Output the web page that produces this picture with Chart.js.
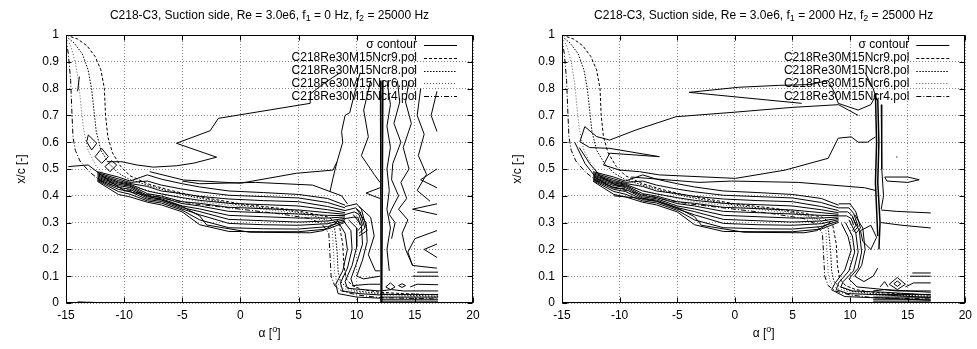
<!DOCTYPE html>
<html>
<head>
<meta charset="utf-8">
<script src="https://cdn.jsdelivr.net/npm/chart.js@4.4.1/dist/chart.umd.min.js"></script>
<style>
  body { margin: 0; background: #fff; }
  .panel { position: absolute; top: 0; }
</style>
</head>
<body>
<div class="panel" style="left:0"><canvas id="leftChart" width="488" height="349"></canvas></div>
<div class="panel" style="left:488px"><canvas id="rightChart" width="489" height="349"></canvas></div>
<script>
// ---- axis / text data ----
const xTicks = [-15, -10, -5, 0, 5, 10, 15, 20];
const yTicks = [0, 0.1, 0.2, 0.3, 0.4, 0.5, 0.6, 0.7, 0.8, 0.9, 1];
const keyLabels = ["σ contour", "C218Re30M15Ncr9.pol", "C218Re30M15Ncr8.pol", "C218Re30M15Ncr6.pol", "C218Re30M15Ncr4.pol"];
const titleLeft = ["C218-C3, Suction side, Re = 3.0e6, f", "1", " = 0 Hz, f", "2", " = 25000 Hz"];
const titleRight = ["C218-C3, Suction side, Re = 3.0e6, f", "1", " = 2000 Hz, f", "2", " = 25000 Hz"];

// ---- XFOIL transition curves (alpha, x/c) ----
const ncr9 = [[-15,1.0],[-14,0.985],[-13.2,0.96],[-12.5,0.92],[-12,0.87],[-11.7,0.8],[-11.6,0.7],[-11.4,0.62],[-11,0.56],[-10.3,0.51],[-9.5,0.475],[-8,0.445],[-6,0.42],[-4,0.4],[-2,0.385],[0,0.37],[2,0.36],[4,0.35],[6,0.335],[7.6,0.32],[8.5,0.29],[8.8,0.22],[8.9,0.14],[9.1,0.09],[9.6,0.065],[10.5,0.05],[12,0.04],[14,0.035],[17,0.03]];
const ncr8 = [[-15,0.995],[-14.3,0.97],[-13.6,0.93],[-13.1,0.87],[-12.8,0.8],[-12.6,0.72],[-12.4,0.64],[-12,0.57],[-11.3,0.52],[-10.5,0.485],[-9.5,0.46],[-8,0.44],[-6,0.415],[-4,0.395],[-2,0.38],[0,0.365],[2,0.355],[4,0.345],[6,0.33],[7.4,0.31],[8.1,0.28],[8.3,0.2],[8.4,0.12],[8.6,0.08],[9.1,0.06],[10,0.045],[12,0.035],[14,0.03],[17,0.025]];
const ncr6 = [[-15,0.99],[-14.6,0.96],[-14.2,0.9],[-13.9,0.82],[-13.7,0.73],[-13.5,0.65],[-13.1,0.57],[-12.4,0.51],[-11.5,0.47],[-10.5,0.45],[-9,0.43],[-7,0.41],[-5,0.39],[-3,0.375],[0,0.36],[3,0.345],[6,0.325],[7.2,0.305],[7.9,0.27],[8.0,0.19],[8.1,0.11],[8.3,0.075],[8.8,0.055],[10,0.04],[12,0.03],[17,0.02]];
const ncr4 = [[-15,0.985],[-14.8,0.93],[-14.6,0.83],[-14.5,0.72],[-14.4,0.62],[-14.2,0.57],[-13.8,0.53],[-13,0.49],[-12,0.455],[-10,0.425],[-8,0.405],[-6,0.385],[-4,0.37],[-2,0.36],[0,0.35],[3,0.335],[6,0.315],[7,0.295],[7.6,0.26],[7.7,0.18],[7.8,0.1],[8.1,0.065],[8.7,0.045],[10,0.03],[12,0.02],[17,0.015]];

// ---- sigma contours: dense band shared by both panels ----
const bandAlpha = [-12.3, -10.5, -9.5, -8, -6.8, -5, -3.5, -1, 2, 5, 7.5, 9];
const bandLines = [
  [0.490, 0.470, 0.455, 0.478, 0.462, 0.445, 0.433, 0.418, 0.412, 0.405, 0.390, 0.365],
  [0.486, 0.463, 0.450, 0.455, 0.440, 0.425, 0.415, 0.402, 0.397, 0.392, 0.375, 0.355],
  [0.482, 0.457, 0.446, 0.435, 0.418, 0.408, 0.398, 0.388, 0.382, 0.378, 0.360, 0.345],
  [0.478, 0.452, 0.443, 0.418, 0.407, 0.393, 0.383, 0.372, 0.367, 0.362, 0.348, 0.337],
  [0.474, 0.448, 0.440, 0.408, 0.399, 0.378, 0.372, 0.357, 0.352, 0.347, 0.337, 0.331],
  [0.470, 0.443, 0.436, 0.401, 0.394, 0.371, 0.362, 0.342, 0.337, 0.332, 0.327, 0.326],
  [0.466, 0.438, 0.431, 0.396, 0.389, 0.362, 0.351, 0.327, 0.322, 0.317, 0.317, 0.321],
  [0.463, 0.431, 0.425, 0.391, 0.384, 0.356, 0.341, 0.312, 0.307, 0.302, 0.306, 0.316],
  [0.460, 0.424, 0.416, 0.386, 0.379, 0.351, 0.329, 0.297, 0.292, 0.290, 0.296, 0.311],
  [0.457, 0.416, 0.406, 0.381, 0.373, 0.346, 0.310, 0.281, 0.277, 0.276, 0.285, 0.306],
  [0.454, 0.405, 0.396, 0.376, 0.366, 0.340, 0.292, 0.267, 0.266, 0.266, 0.276, 0.301]
];

// bottom strip (alpha > 12, x/c near 0), both panels
const sigmaBottom = [
  [[12,0.045],[13,0.05],[14,0.045],[17,0.045]],
  [[12,0.032],[17,0.032]],
  [[12,0.022],[17,0.022]],
  [[12,0.014],[17,0.014]],
  [[12,0.007],[17,0.007]]
];

// ---- left panel (f1 = 0 Hz) ----
const sigmaLeft = [
  [[-11.4,0.527],[-10.2,0.527],[-8.9,0.515],[-7.5,0.507],[-5.5,0.512],[-4,0.522],[-2.05,0.544],[-5.5,0.596],[-2.6,0.643],[-1.9,0.689],[6,0.745],[6,0.78],[7.4,0.826],[8.6,0.86]],
  [[-7.8,0.49],[-4.9,0.459],[0,0.447],[4.8,0.484],[7.96,0.496],[8.3,0.526],[8.8,0.6],[8.7,0.64],[9.0,0.7],[9.4,0.71],[9.8,0.78],[10.3,0.86]],
  [[7.7,0.415],[7.96,0.466],[8.3,0.526]],
  [[-14.8,0.509],[-13.1,0.515],[-11.2,0.453],[-10,0.42],[-8,0.4],[-6.8,0.385],[-5,0.36],[-3.5,0.325],[-2.9,0.291],[0.8,0.264],[6,0.262],[7.1,0.27],[8.3,0.3]],
  [[-13.22,0.602],[-13.08,0.627],[-12.36,0.596],[-12.79,0.571],[-13.22,0.602]],
  [[-12.5,0.546],[-11.93,0.577],[-11.36,0.546],[-11.93,0.521],[-12.5,0.546]],
  [[-11.65,0.509],[-11.07,0.531],[-10.64,0.515],[-11.22,0.49],[-11.65,0.509]],
  [[-14.0,0.79],[-13.85,0.845]],
  [[-14.0,0.004],[-12.5,0.002]],
  [[-5,0.455],[-3.5,0.445],[1.3,0.45],[6.2,0.44],[8.7,0.4],[9.2,0.37]],
  [[9.0,0.36],[10.0,0.37],[10.4,0.35],[10.9,0.27],[10.2,0.25]],
  [[9.0,0.345],[9.9,0.355],[10.3,0.34],[10.7,0.28],[10.2,0.26]],
  [[9.0,0.33],[9.8,0.34],[10.2,0.33],[10.5,0.29],[10.1,0.27]],
  [[9.0,0.315],[9.7,0.32],[10.1,0.32],[10.3,0.29]],
  [[8.3,0.31],[9.0,0.26],[9.2,0.2],[8.8,0.12],[8.2,0.07],[8.4,0.035],[10,0.022],[12,0.018]],
  [[8.8,0.31],[9.5,0.27],[9.6,0.2],[9.2,0.13],[8.6,0.075],[8.8,0.045],[10.2,0.035],[12,0.03]],
  [[9.3,0.31],[10.0,0.28],[10.0,0.21],[9.6,0.14],[9.0,0.08],[9.2,0.055],[10.5,0.05],[12,0.045]],
  [[9.7,0.33],[10.4,0.29],[10.5,0.22],[10.0,0.15],[9.5,0.09],[9.7,0.065],[11,0.07],[12,0.07]],
  [[10.0,0.35],[10.8,0.3],[10.9,0.23],[10.5,0.16],[10.0,0.1],[10.6,0.09],[12,0.1]],
  [[10.2,0.36],[11.2,0.32],[11.5,0.25],[11.0,0.18],[11.6,0.12],[12,0.12]],
  [[11.2,0.83],[10.6,0.72],[11.0,0.62],[10.4,0.55],[11.5,0.48],[12.0,0.45]],
  [[12.0,0.43],[10.8,0.41],[12.0,0.39]],
  [[12.6,0.83],[12.9,0.74],[12.6,0.66],[12.9,0.58],[12.6,0.5],[12.8,0.42],[12.6,0.35],[12.9,0.28],[12.6,0.2],[12.8,0.12]],
  [[13.5,0.83],[13.7,0.75],[13.2,0.67],[13.8,0.6],[13.1,0.52],[13.0,0.46],[13.6,0.4],[13.0,0.35],[12.8,0.33],[13.3,0.3],[13.0,0.24]],
  [[14.5,0.83],[14.2,0.75],[14.7,0.67],[14.0,0.58],[14.5,0.5],[13.8,0.45],[14.3,0.39],[13.6,0.35],[14.4,0.31],[13.9,0.26],[14.2,0.2],[14.8,0.14]],
  [[15.5,0.8],[15.2,0.7],[15.8,0.63],[15.3,0.55],[16.0,0.48],[15.2,0.42],[16.3,0.38]],
  [[16.9,0.79],[16.4,0.7],[16.9,0.64]],
  [[16.9,0.5],[15.5,0.46],[16.9,0.43]],
  [[16.9,0.37],[14.8,0.35],[16.9,0.33]],
  [[16.9,0.27],[15.0,0.24],[14.4,0.19],[14.8,0.14],[16.9,0.13]],
  [[16.9,0.22],[15.8,0.2],[16.9,0.17]],
  [[14.8,0.1],[17,0.1]],
  [[15.2,0.115],[17,0.115]],
  [[12.5,0.06],[12.9,0.075],[13.3,0.06],[12.9,0.05],[12.5,0.06]],
  [[13.6,0.065],[13.9,0.072],[14.2,0.065],[13.9,0.058],[13.6,0.065]],
  [[14.6,0.06],[15.2,0.07],[17,0.068]]
];
const sigmaLeftThick = [
  [[12.05,0.83],[12.1,0.0]],
  [[12.25,0.83],[12.2,0.4],[12.15,0.0]]
];

// ---- right panel (f1 = 2000 Hz) ----
const sigmaRight = [
  [[10.7,0.7],[9,0.74],[5,0.73],[0,0.712],[-5.11,0.695],[-8.56,0.646],[-10.86,0.608],[-12,0.621],[-13.02,0.658],[-13.45,0.602],[-12.6,0.58],[-10.86,0.577],[-6.55,0.546],[-10.86,0.559],[-11.4,0.515],[-10,0.496],[-8.28,0.49],[-6.55,0.478],[0.06,0.465],[4.37,0.496],[8.1,0.54],[8.97,0.615],[10.1,0.62],[10.7,0.6],[11.5,0.6],[12.2,0.62]],
  [[5.8,0.745],[-3.97,0.786],[0.34,0.805],[3.8,0.812],[6.5,0.815],[8.1,0.83],[8.68,0.782],[8.97,0.745],[10.7,0.72],[11.8,0.74],[12.3,0.78]],
  [[11.3,0.86],[12.0,0.8],[12.4,0.75]],
  [[-9,0.47],[-6,0.46],[-3.1,0.45],[-0.26,0.455],[5.5,0.45],[11.26,0.43],[12.2,0.42]],
  [[-13.5,0.58],[-12.6,0.52],[-11.6,0.47],[-10.3,0.44],[-9.5,0.435]],
  [[-13.9,0.6],[-13.0,0.52],[-12.0,0.465],[-10.6,0.43],[-9.5,0.425]],
  [[-10.5,0.4],[-8,0.39],[-6.8,0.38],[-5,0.355],[-3.5,0.322],[-2.9,0.29],[0.8,0.264],[6,0.262],[7.1,0.27],[8.3,0.3]],
  [[9.0,0.37],[10.0,0.37],[10.5,0.34],[10.9,0.28],[10.5,0.26]],
  [[9.0,0.355],[9.9,0.355],[10.3,0.335],[10.7,0.285],[10.3,0.265]],
  [[9.0,0.34],[9.8,0.34],[10.2,0.325],[10.5,0.29],[10.2,0.27]],
  [[9.0,0.325],[9.7,0.325],[10.1,0.315],[10.3,0.29]],
  [[9.25,0.297],[9.83,0.247],[10.1,0.198],[9.54,0.123],[8.68,0.073],[8.4,0.049],[9.54,0.024],[13,0.018],[17,0.01]],
  [[9.6,0.3],[10.2,0.25],[10.4,0.19],[9.9,0.12],[9.0,0.075],[8.8,0.05],[9.8,0.035],[13,0.03],[17,0.02]],
  [[9.9,0.31],[10.5,0.26],[10.7,0.19],[10.3,0.12],[9.4,0.08],[9.2,0.06],[10.2,0.045],[13,0.04],[17,0.03]],
  [[10.2,0.32],[10.8,0.27],[11.0,0.19],[10.7,0.13],[9.9,0.09],[10.6,0.06],[13,0.05],[17,0.04]],
  [[10.4,0.33],[11.1,0.28],[11.3,0.2],[11.0,0.14],[10.4,0.1],[11.2,0.08],[12,0.1],[12.4,0.13]],
  [[10.9,0.27],[11.8,0.29],[12.3,0.245],[11.8,0.2],[11.1,0.23],[10.9,0.27]],
  [[12.7,0.74],[12.75,0.5],[12.9,0.4],[12.7,0.35]],
  [[12.7,0.347],[14,0.342],[17,0.336]],
  [[12.7,0.3],[14.5,0.29],[17,0.28]],
  [[13.0,0.47],[13.2,0.455],[15.0,0.45],[16.0,0.46],[15.0,0.47],[13.0,0.47]],
  [[14.0,0.545],[14.1,0.545]],
  [[13.4,0.07],[14.1,0.095],[14.8,0.07],[14.1,0.05],[13.4,0.07]],
  [[13.8,0.072],[14.1,0.082],[14.4,0.072],[14.1,0.062],[13.8,0.072]],
  [[12.6,0.06],[13.0,0.08],[13.3,0.06]],
  [[15.2,0.1],[17,0.1]],
  [[15.4,0.112],[17,0.112]],
  [[14.8,0.06],[15.5,0.075],[17,0.075]]
];
const sigmaRightThick = [
  [[12.4,0.76],[12.5,0.6],[12.4,0.45],[12.6,0.3],[12.5,0.2]],
  [[12.2,0.78],[12.3,0.6],[12.2,0.45],[12.4,0.25]]
];

// ---- styles ----
const FONT = '"Liberation Sans", Arial, Helvetica, sans-serif';
const contourStyle = { borderColor: "#000", borderWidth: 1 };
const thickStyle = { borderColor: "#000", borderWidth: 1.5 };
const keyStyles = [
  contourStyle,
  { borderColor: "#000", borderWidth: 1, borderDash: [3, 2] },
  { borderColor: "#000", borderWidth: 1, borderDash: [1.5, 1.5] },
  { borderColor: "#555", borderWidth: 1, borderDash: [1, 2] },
  { borderColor: "#000", borderWidth: 1, borderDash: [5, 2, 1, 2] }
];

function lineSet(points, style) {
  return Object.assign({
    data: points.map(p => ({ x: p[0], y: p[1] })),
    showLine: true,
    pointRadius: 0,
    fill: false,
    tension: 0
  }, style);
}

function buildDatasets(contours, thick) {
  const sets = [];
  bandLines.forEach(row => sets.push(lineSet(row.map((v, i) => [bandAlpha[i], v]), contourStyle)));
  contours.concat(sigmaBottom).forEach(c => sets.push(lineSet(c, contourStyle)));
  thick.forEach(c => sets.push(lineSet(c, thickStyle)));
  [ncr9, ncr8, ncr6, ncr4].forEach((c, i) => sets.push(lineSet(c, keyStyles[i + 1])));
  return sets;
}

function drawPieces(ctx, pieces, cx, cy, big, small, shift) {
  const w = pieces.map((t, i) => { ctx.font = (i % 2 ? small : big) + "px " + FONT; return ctx.measureText(t).width; });
  let x = cx - w.reduce((a, b) => a + b, 0) / 2;
  pieces.forEach((t, i) => {
    ctx.font = (i % 2 ? small : big) + "px " + FONT;
    ctx.fillText(t, x, cy + (i % 2 ? shift : 0));
    x += w[i];
  });
}

const gnuplotFrame = {
  id: "gnuplotFrame",
  afterDraw(chart, args, opts) {
    const { ctx, chartArea: a, scales: { x, y } } = chart;
    ctx.save();
    ctx.fillStyle = "#000";
    ctx.textBaseline = "middle";

    // key
    ctx.font = "12px " + FONT;
    ctx.textAlign = "right";
    keyLabels.forEach((lab, i) => {
      const yy = a.top + 10 + i * 12.8;
      ctx.fillText(lab, a.right - 56, yy);
      const st = keyStyles[i];
      ctx.strokeStyle = st.borderColor;
      ctx.lineWidth = st.borderWidth;
      ctx.setLineDash(st.borderDash || []);
      ctx.beginPath();
      ctx.moveTo(a.right - 49, Math.round(yy) + 0.5);
      ctx.lineTo(a.right - 16, Math.round(yy) + 0.5);
      ctx.stroke();
    });
    ctx.setLineDash([]);

    // border and inward tics
    ctx.strokeStyle = "#000";
    ctx.lineWidth = 1;
    const L = Math.round(a.left) + 0.5, R = Math.round(a.right) - 0.5;
    const T = Math.round(a.top) + 0.5, B = Math.round(a.bottom) - 0.5;
    ctx.strokeRect(L, T, R - L, B - T);
    ctx.beginPath();
    xTicks.forEach(v => {
      const px = Math.round(x.getPixelForValue(v)) + 0.5;
      ctx.moveTo(px, B); ctx.lineTo(px, B - 5);
      ctx.moveTo(px, T); ctx.lineTo(px, T + 5);
    });
    yTicks.forEach(v => {
      const py = Math.round(y.getPixelForValue(v)) + 0.5;
      ctx.moveTo(L, py); ctx.lineTo(L + 5, py);
      ctx.moveTo(R, py); ctx.lineTo(R - 5, py);
    });
    ctx.stroke();

    // title and axis titles
    ctx.textAlign = "left";
    const cx = (a.left + a.right) / 2;
    drawPieces(ctx, opts.title, cx, 16, 12, 9, 3);
    drawPieces(ctx, ["α [", "o", "]"], cx, 334, 12, 9, -4);
    ctx.translate(a.left - 44, (a.top + a.bottom) / 2);
    ctx.rotate(-Math.PI / 2);
    ctx.textAlign = "center";
    ctx.font = "12px " + FONT;
    ctx.fillText("x/c [-]", 0, 0);
    ctx.restore();
  }
};

function makeChart(id, contours, thick, title, yWidth, padRight) {
  return new Chart(document.getElementById(id).getContext("2d"), {
    type: "scatter",
    data: { datasets: buildDatasets(contours, thick) },
    options: {
      responsive: false,
      animation: false,
      devicePixelRatio: 1,
      layout: { padding: { left: 0, right: padRight, top: 35, bottom: 0 } },
      plugins: {
        legend: { display: false },
        tooltip: { enabled: false },
        gnuplotFrame: { title: title }
      },
      scales: {
        x: {
          type: "linear", min: -15, max: 20,
          afterBuildTicks: s => { s.ticks = xTicks.map(v => ({ value: v })); },
          afterFit: s => { s.height = 46; },
          ticks: { color: "#000", font: { size: 12, family: FONT }, padding: 5, maxRotation: 0, callback: v => String(v) },
          grid: { color: "#888", lineWidth: 1, drawTicks: false },
          border: { display: false, dash: [1, 2] }
        },
        y: {
          type: "linear", min: 0, max: 1,
          afterBuildTicks: s => { s.ticks = yTicks.map(v => ({ value: v })); },
          afterFit: s => { s.width = yWidth; },
          ticks: { color: "#000", font: { size: 12, family: FONT }, padding: 7, callback: v => String(v) },
          grid: { color: "#888", lineWidth: 1, drawTicks: false },
          border: { display: false, dash: [1, 2] }
        }
      }
    },
    plugins: [gnuplotFrame]
  });
}

makeChart("leftChart", sigmaLeft, sigmaLeftThick, titleLeft, 66, 15);
makeChart("rightChart", sigmaRight, sigmaRightThick, titleRight, 74, 9);
</script>
</body>
</html>
